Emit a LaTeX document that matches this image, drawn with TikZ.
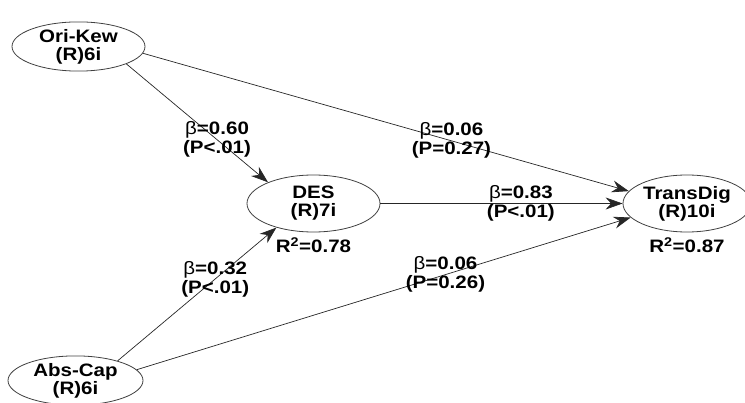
\documentclass[tikz,border=0pt]{standalone}
\usepackage{fontspec}
\newfontfamily\pathfont{Liberation Sans}[FakeStretch=1.14]
\usetikzlibrary{arrows.meta, positioning, shapes.geometric}

\begin{document}
\begin{tikzpicture}[
    x=1pt, y=-1pt,
    lv/.style={ellipse, draw=black!75, line width=0.8pt, inner sep=0pt,
               align=center, text=black,
               font=\pathfont\bfseries\fontsize{18}{18}\selectfont},
    rel/.style={-{Stealth[length=17pt,width=12pt]}, line width=0.7pt, black!85},
    coef/.style={align=center, inner sep=1pt, text=black,
                 font=\pathfont\bfseries\fontsize{18}{19}\selectfont},
  ]
    \useasboundingbox (0,0) rectangle (745,403);

    %% Constructs ─────────────────────────────
    \node[lv, minimum width=133pt, minimum height=47pt] (ori)   at (78.5,46.5)  {Ori-Kew\\(R)6i};
    \node[lv, minimum width=135pt, minimum height=47pt] (abs)   at (75.5,380.5) {Abs-Cap\\(R)6i};
    \node[lv, minimum width=133pt, minimum height=57pt] (des)   at (313.5,203.5) {DES\\(R)7i};
    \node[lv, minimum width=128pt, minimum height=57pt] (trans) at (687,203.5)  {TransDig\\(R)10i};

    %% R-squared ──────────────────────────────
    \node[coef, below=4pt of des]   (r2des)   {R\textsuperscript{2}=0.78};
    \node[coef, below=4pt of trans] (r2trans) {R\textsuperscript{2}=0.87};

    %% Paths ──────────────────────────────────
    \draw[rel] (ori.-20) -- (des.155)
          node[coef, pos=0.64] (bod) {\textmd{β}=0.60\\(P<.01)};
    \draw[rel] (ori.-6) -- (trans.168)
          node[coef, pos=0.635] (bot) {\textmd{β}=0.06\\(P=0.27)};
    \draw[rel] (des.east) -- (trans.west)
          node[coef, pos=0.58] (bdt) {\textmd{β}=0.83\\(P<.01)};
    \draw[rel] (abs.25) -- (des.-147)
          node[coef, pos=0.615] (bad) {\textmd{β}=0.32\\(P<.01)};
    \draw[rel] (abs.10) -- (trans.-166)
          node[coef, pos=0.625] (bat) {\textmd{β}=0.06\\(P=0.26)};

  \end{tikzpicture}
\end{document}
